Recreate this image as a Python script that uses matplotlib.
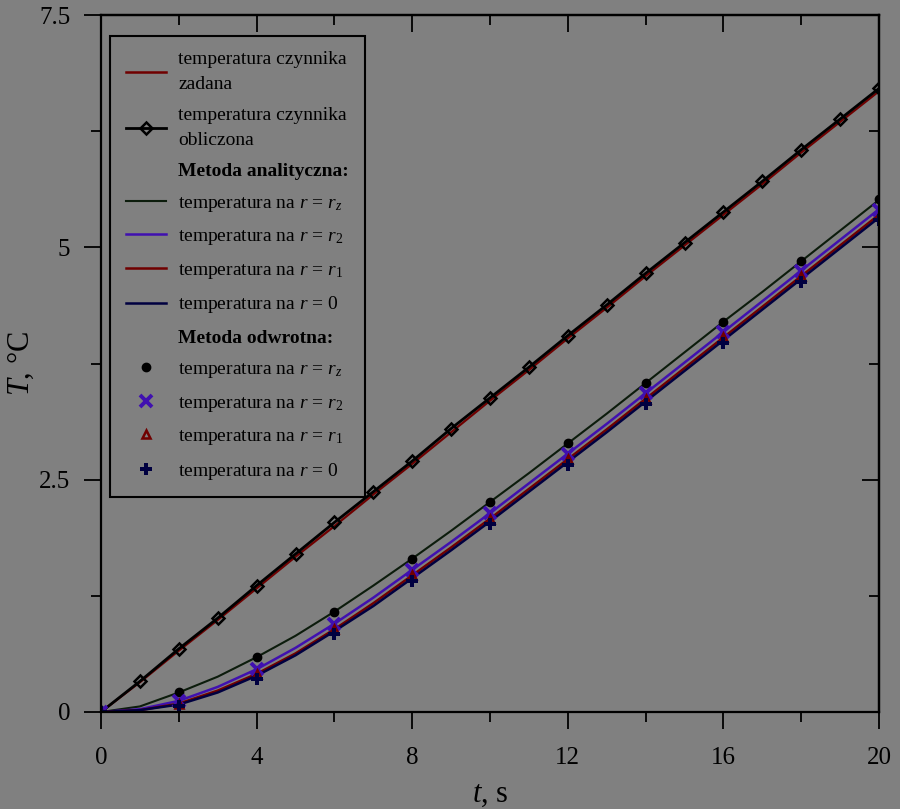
import numpy as np
import matplotlib
matplotlib.use('Agg')
import matplotlib.pyplot as plt
from matplotlib.lines import Line2D
from matplotlib.ticker import MultipleLocator, FixedLocator

plt.rcParams['font.family'] = ['Liberation Serif', 'DejaVu Serif']
plt.rcParams['mathtext.fontset'] = 'custom'
plt.rcParams['mathtext.rm'] = 'Liberation Serif'
plt.rcParams['mathtext.it'] = 'Liberation Serif:italic'
plt.rcParams['mathtext.bf'] = 'Liberation Serif:bold'

# Time (s) for the continuous curves and the inverse-method points
t_line = np.arange(0, 21, 1)
t_pts = np.arange(0, 21, 2)

# Fluid temperature (deg C)
fluid_set = [0, 0.32, 0.66, 0.99, 1.33, 1.67, 2.00, 2.34, 2.67, 3.01, 3.35,
             3.68, 4.02, 4.35, 4.69, 5.02, 5.35, 5.68, 6.02, 6.35, 6.68]
fluid_calc = [0, 0.33, 0.68, 1.01, 1.36, 1.70, 2.04, 2.37, 2.70, 3.05, 3.38,
              3.71, 4.05, 4.38, 4.72, 5.05, 5.38, 5.71, 6.05, 6.38, 6.71]

# Analytical method
an_rz = [0, 0.06, 0.21, 0.38, 0.59, 0.82, 1.08, 1.36, 1.65, 1.95, 2.26,
         2.57, 2.89, 3.21, 3.54, 3.87, 4.20, 4.52, 4.85, 5.18, 5.51]
an_r2 = [0, 0.03, 0.12, 0.27, 0.46, 0.69, 0.95, 1.23, 1.53, 1.83, 2.14,
         2.46, 2.78, 3.10, 3.43, 3.76, 4.09, 4.42, 4.75, 5.08, 5.41]
an_r1 = [0, 0.02, 0.09, 0.23, 0.41, 0.63, 0.89, 1.17, 1.47, 1.77, 2.08,
         2.40, 2.72, 3.04, 3.37, 3.70, 4.03, 4.36, 4.69, 5.02, 5.35]
an_r0 = [0, 0.02, 0.08, 0.21, 0.39, 0.61, 0.87, 1.14, 1.44, 1.74, 2.05,
         2.37, 2.69, 3.01, 3.34, 3.67, 4.00, 4.33, 4.66, 4.99, 5.32]

# Inverse method
inv_rz = [0, 0.21, 0.59, 1.08, 1.65, 2.26, 2.89, 3.54, 4.20, 4.85, 5.52]
inv_r2 = [0, 0.12, 0.46, 0.95, 1.53, 2.14, 2.78, 3.43, 4.09, 4.75, 5.40]
inv_r1 = [0, 0.09, 0.41, 0.89, 1.47, 2.08, 2.72, 3.37, 4.03, 4.69, 5.34]
inv_r0 = [0, 0.06, 0.36, 0.84, 1.41, 2.02, 2.66, 3.31, 3.97, 4.63, 5.29]

bg = '#808080'
c_rz = '#0c1c0c'
c_r2 = '#4010b0'
c_r1 = '#700000'
c_r0 = '#000040'

fig = plt.figure(figsize=(9, 8.09), dpi=100, facecolor=bg)
ax = fig.add_axes([101 / 900, 97 / 809, 778 / 900, 697 / 809], facecolor=bg)

ax.plot(t_line, fluid_set, color=c_r1, lw=1.6)
ax.plot(t_line, fluid_calc, color='black', lw=2.0, marker='D', ms=6,
        mfc='none', mec='black', mew=1.8)

ax.plot(t_line, an_rz, color=c_rz, lw=1.5)
ax.plot(t_line, an_r2, color=c_r2, lw=1.8)
ax.plot(t_line, an_r1, color=c_r1, lw=1.8)
ax.plot(t_line, an_r0, color=c_r0, lw=1.8)

ax.plot(t_pts, inv_rz, ls='none', marker='o', ms=6, color='black')
ax.plot(t_pts, inv_r2, ls='none', marker='x', ms=9, mew=2.8, color=c_r2)
ax.plot(t_pts, inv_r1, ls='none', marker='^', ms=6, mfc='none', mew=1.8, color=c_r1)
ax.plot(t_pts, inv_r0, ls='none', marker='P', ms=9, mew=0, color=c_r0)

ax.set_xlim(0, 20)
ax.set_ylim(0, 7.5)
ax.xaxis.set_major_locator(MultipleLocator(4))
ax.xaxis.set_minor_locator(MultipleLocator(2))
ax.yaxis.set_major_locator(FixedLocator([0, 2.5, 5, 7.5]))
ax.yaxis.set_minor_locator(FixedLocator([1.25, 3.75, 6.25]))
ax.set_yticklabels(['0', '2.5', '5', '7.5'])

for s in ax.spines.values():
    s.set_linewidth(1.6)

ax.tick_params(which='both', direction='out', width=1.3, labelsize=18,
               top=False, right=False)
ax.tick_params(which='major', length=12)
ax.tick_params(which='minor', length=7)
ax.tick_params(axis='x', which='major', pad=13)
ax.tick_params(axis='y', which='major', pad=10)

# inward ticks on top and right
ax_t = ax.secondary_xaxis('top')
ax_t.xaxis.set_major_locator(MultipleLocator(4))
ax_t.xaxis.set_minor_locator(MultipleLocator(2))
ax_t.tick_params(which='both', direction='in', width=1.3, labeltop=False)
ax_t.tick_params(which='major', length=12)
ax_t.tick_params(which='minor', length=7)
ax_t.spines['top'].set_linewidth(1.6)
ax_r = ax.secondary_yaxis('right')
ax_r.yaxis.set_major_locator(FixedLocator([0, 2.5, 5, 7.5]))
ax_r.yaxis.set_minor_locator(FixedLocator([1.25, 3.75, 6.25]))
ax_r.tick_params(which='both', direction='in', width=1.3, labelright=False)
ax_r.tick_params(which='major', length=12)
ax_r.tick_params(which='minor', length=7)
ax_r.spines['right'].set_linewidth(1.6)

ax.set_xlabel('$t$, s', fontsize=22, labelpad=8)
ax.set_ylabel('$T$, °C', fontsize=22, labelpad=2)

blank = Line2D([], [], ls='none')
handles = [
    Line2D([], [], color=c_r1, lw=1.8),
    Line2D([], [], color='black', lw=2.0, marker='D', ms=6, mfc='none', mew=1.8),
    blank,
    Line2D([], [], color=c_rz, lw=1.5),
    Line2D([], [], color=c_r2, lw=1.8),
    Line2D([], [], color=c_r1, lw=1.8),
    Line2D([], [], color=c_r0, lw=1.8),
    blank,
    Line2D([], [], ls='none', marker='o', ms=6, color='black'),
    Line2D([], [], ls='none', marker='x', ms=9, mew=2.8, color=c_r2),
    Line2D([], [], ls='none', marker='^', ms=6, mfc='none', mew=1.8, color=c_r1),
    Line2D([], [], ls='none', marker='P', ms=9, mew=0, color=c_r0),
]
labels = [
    'temperatura czynnika\nzadana',
    'temperatura czynnika\nobliczona',
    'Metoda analityczna:',
    'temperatura na $r$ = $r_z$',
    'temperatura na $r$ = $r_2$',
    'temperatura na $r$ = $r_1$',
    'temperatura na $r$ = 0',
    'Metoda odwrotna:',
    'temperatura na $r$ = $r_z$',
    'temperatura na $r$ = $r_2$',
    'temperatura na $r$ = $r_1$',
    'temperatura na $r$ = 0',
]
leg = ax.legend(handles, labels, loc='upper left', bbox_to_anchor=(0.0116, 0.97),
                fontsize=14, frameon=True, fancybox=False, framealpha=1,
                facecolor=bg, edgecolor='black', borderaxespad=0,
                handlelength=2.1, handletextpad=0.62, labelspacing=0.71,
                borderpad=0.8)
leg.get_frame().set_linewidth(1.5)
for txt in leg.get_texts():
    txt.set_linespacing(1.6)
    if txt.get_text().startswith('Metoda'):
        txt.set_fontweight('bold')

fig.savefig('out.png', dpi=100, facecolor=bg)
